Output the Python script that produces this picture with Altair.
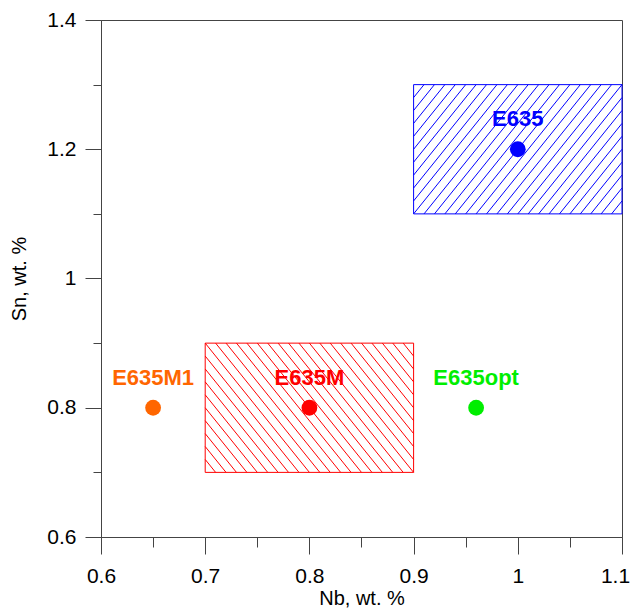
import altair as alt
import pandas as pd

# ---- data ----
names = ["E635", "E635M", "E635M1", "E635opt"]
nb = [1.0, 0.8, 0.65, 0.96]
sn = [1.2, 0.8, 0.8, 0.8]
colors = ["#0000ff", "#ff0000", "#ff6600", "#00ee00"]

rect_names = ["E635 range", "E635M range"]
rect_nb_lo = [0.9, 0.7]
rect_nb_hi = [1.1, 0.9]
rect_sn_lo = [1.1, 0.7]
rect_sn_hi = [1.3, 0.9]
rect_colors = ["#0000ff", "#ff0000"]
rect_hatch = ["/", "\\"]

x_ticks = [0.6, 0.65, 0.7, 0.75, 0.8, 0.85, 0.9, 0.95, 1.0, 1.05, 1.1]
y_ticks = [0.6, 0.7, 0.8, 0.9, 1.0, 1.1, 1.2, 1.3, 1.4]

FONT = "Liberation Sans"
HX, HY = 0.01, 0.02  # hatch spacing (styling)

xscale = alt.Scale(domain=[0.6, 1.1], nice=False, zero=False)
yscale = alt.Scale(domain=[0.6, 1.4], nice=False, zero=False)

x_minor = "round(datum.value*20)%2==1"
y_minor = "round(datum.value*10)%2==1"

x_axis = alt.Axis(
    values=x_ticks, title="Nb, wt. %", grid=False,
    tickSize={"condition": {"test": x_minor, "value": 10}, "value": 17},
    labelExpr=f"{x_minor} ? '' : toString(round(datum.value*10)/10)",
    labelOffset={"condition": {"test": "datum.value > 1.09", "value": -7}, "value": 0},
    labelFontSize=21, titleFontSize=20, labelPadding=11, titlePadding=2,
    labelFont=FONT, titleFont=FONT, labelColor="black", titleColor="black",
    titleFontWeight="normal", domainColor="#444", tickColor="#444",
    labelFlush=False, labelOverlap=False,
)
y_axis = alt.Axis(
    values=y_ticks, title="Sn, wt. %", grid=False,
    tickSize={"condition": {"test": y_minor, "value": 8}, "value": 16},
    labelExpr=f"{y_minor} ? '' : toString(round(datum.value*10)/10)",
    labelFontSize=21, titleFontSize=20, labelPadding=9, titlePadding=17,
    labelFont=FONT, titleFont=FONT, labelColor="black", titleColor="black",
    titleFontWeight="normal", domainColor="#444", tickColor="#444",
    labelFlush=False, labelOverlap=False,
)


def hatch_layer(i):
    x0, x1 = rect_nb_lo[i], rect_nb_hi[i]
    y0, y1 = rect_sn_lo[i], rect_sn_hi[i]
    W = round((x1 - x0) / HX)
    H = round((y1 - y0) / HY)
    if rect_hatch[i] == "/":
        seq = alt.sequence(-H + 1, W, 1, as_="k")
        ch = alt.Chart(seq).transform_calculate(
            u0="max(0, datum.k)", u1=f"min({W}, {H} + datum.k)",
        ).transform_calculate(v0="datum.u0 - datum.k", v1="datum.u1 - datum.k")
    else:
        seq = alt.sequence(1, W + H, 1, as_="k")
        ch = alt.Chart(seq).transform_calculate(
            u0=f"max(0, datum.k - {H})", u1=f"min({W}, datum.k)",
        ).transform_calculate(v0="datum.k - datum.u0", v1="datum.k - datum.u1")
    ch = ch.transform_calculate(
        xa=f"{x0} + datum.u0*{HX}", xb=f"{x0} + datum.u1*{HX}",
        ya=f"{y0} + datum.v0*{HY}", yb=f"{y0} + datum.v1*{HY}",
    )
    return ch.mark_rule(color=rect_colors[i], strokeWidth=1).encode(
        x=alt.X("xa:Q", scale=xscale, axis=x_axis),
        y=alt.Y("ya:Q", scale=yscale, axis=y_axis),
        x2="xb:Q", y2="yb:Q",
    )


rects = pd.DataFrame({
    "name": rect_names, "x0": rect_nb_lo, "x1": rect_nb_hi,
    "y0": rect_sn_lo, "y1": rect_sn_hi, "color": rect_colors,
})
pts = pd.DataFrame({"name": names, "nb": nb, "sn": sn, "color": colors})

rect_layer = alt.Chart(rects).mark_rect(filled=False, strokeWidth=1).encode(
    x=alt.X("x0:Q", scale=xscale, axis=x_axis),
    x2="x1:Q",
    y=alt.Y("y0:Q", scale=yscale, axis=y_axis),
    y2="y1:Q",
    stroke=alt.Color("color:N", scale=None),
)

point_layer = alt.Chart(pts).mark_circle(size=250, opacity=1).encode(
    x=alt.X("nb:Q", scale=xscale, axis=x_axis),
    y=alt.Y("sn:Q", scale=yscale, axis=y_axis),
    color=alt.Color("color:N", scale=None),
)

label_layer = alt.Chart(pts).mark_text(
    dy=-23, baseline="alphabetic", fontWeight="bold", fontSize=22, font=FONT
).encode(
    x=alt.X("nb:Q", scale=xscale, axis=x_axis),
    y=alt.Y("sn:Q", scale=yscale, axis=y_axis),
    text="name:N",
    color=alt.Color("color:N", scale=None),
)

chart = alt.layer(
    hatch_layer(0), hatch_layer(1), rect_layer, point_layer, label_layer
).properties(
    width=521, height=517,
    autosize=alt.AutoSizeParams(type="none"),
    padding={"left": 93, "top": 12, "right": 8, "bottom": 76},
).configure_view(stroke="#444", strokeWidth=1)

chart.save("out.html", embed_options={"renderer": "svg", "actions": False})
